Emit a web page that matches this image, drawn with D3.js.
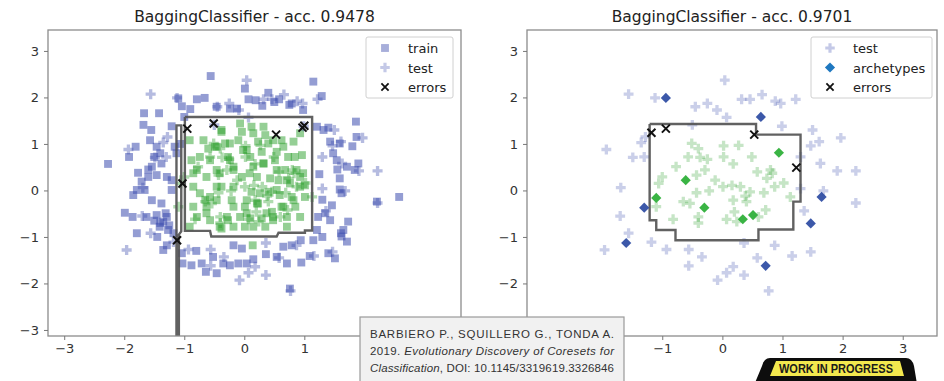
<!DOCTYPE html>
<html>
<head>
<meta charset="utf-8">
<script src="https://cdn.jsdelivr.net/npm/d3@7"></script>
<style>
  html, body { margin: 0; padding: 0; background: #fff; }
  svg { display: block; font-family: "DejaVu Sans", sans-serif; }
</style>
</head>
<body>
<svg id="chart" width="944" height="381"></svg>
<script>
// ---- data (data units) ----
// tick labels hidden by the citation box are left out
const xTicksL = [-3, -2, -1, 0, 1];
const xTicksR = [-1, 0, 1, 2, 3];
const yTicksL = [-3, -2, -1, 0, 1, 2, 3];
const yTicksR = [-2, -1, 0, 1, 2, 3];
const titles = ["BaggingClassifier - acc. 0.9478", "BaggingClassifier - acc. 0.9701"];

// training points, outer class (blue squares)
const trainOut = [
  [-0.56,2.46],[1.15,2.34],[1.29,2.03],[0.01,2.19],[0.07,1.96],[0.40,2.10],[0.58,1.96],[0.79,1.87],
  [-0.79,1.96],[-0.66,1.99],[-1.10,1.98],[-1.04,1.81],[-0.46,1.80],[-0.24,1.76],[-0.12,1.76],[0.19,1.94],
  [-1.00,1.58],[-1.67,1.66],[-1.42,1.66],[-1.68,1.41],[-1.21,1.38],[1.21,1.37],[1.40,1.35],[1.86,1.48],
  [1.87,1.15],[1.43,1.05],[1.59,1.01],[-1.81,0.94],[-1.92,0.72],[-1.57,1.08],[-1.46,0.94],[-1.50,0.72],
  [-1.38,0.58],[-1.54,0.51],[-1.77,0.38],[-1.60,0.29],[-1.71,0.19],[-2.27,0.57],[-1.29,0.29],[-1.79,0.01],
  [-1.66,0.01],[-1.85,-0.10],[-1.21,0.01],[1.54,0.65],[1.71,0.51],[1.90,0.58],[1.84,0.44],[1.59,0.26],
  [1.59,0.02],[1.62,-0.06],[2.21,-0.24],[2.58,-0.14],[1.46,-0.32],[1.35,-0.49],[1.43,-0.64],[1.73,-0.67],
  [1.61,-0.92],[1.71,-1.10],[1.23,-0.57],[1.21,-0.85],[1.15,-1.07],[1.51,-1.46],[1.40,-1.35],[1.09,-1.41],
  [0.94,-1.07],[0.79,-1.18],[0.65,-1.21],[0.54,-1.43],[0.71,-1.57],[0.76,-2.11],[0.36,-1.37],[0.15,-1.48],
  [0.04,-1.57],[-0.18,-1.18],[-0.04,-1.25],[-0.10,-1.57],[-0.24,-1.61],[-0.35,-1.57],[-0.71,-1.57],[-0.52,-1.43],
  [-0.64,-1.75],[-0.46,-1.78],[-1.03,-1.57],[-0.88,-1.61],[-1.04,-1.35],[-1.35,-1.28],[-1.29,-1.18],[-1.79,-0.92],
  [-1.99,-0.48],[-1.86,-0.57],[-1.63,-0.57],[-1.46,-0.53],[-1.35,-0.67],[-1.41,-0.78],[-1.27,-0.85],[-1.29,-0.57],
  [-1.54,-0.21],[-1.31,-0.49],[-1.18,-0.92],[-1.21,0.22],[0.75,1.84],[0.98,1.73],[-1.13,0.80],[-1.16,0.94],
  [-1.07,1.00],[-1.46,0.33],[-1.38,-0.28],[1.48,0.80],[1.32,1.30],[1.62,-0.99],[0.30,1.82],[-0.90,1.75],
  [1.30,-0.20],[1.25,0.35],[-1.45,-1.00],[-0.80,-1.30],[0.95,-1.55],[1.80,0.95],[-1.55,1.30],[0.50,1.90],
  [-1.40,-0.70],[-1.25,-0.75],[-1.50,-0.65],[-1.60,0.45],[-1.40,0.80],[1.55,0.45],[1.65,-0.85],[1.30,-1.00]
];
// training points, inner class (green squares)
const trainIn = [
  [-0.07,1.44],[-0.04,1.26],[-0.10,1.08],[0.04,0.87],[0.23,1.05],[0.40,1.01],[0.62,1.08],[0.82,1.05],
  [0.96,0.76],[0.73,0.72],[0.87,0.44],[0.68,0.44],[0.51,0.65],[0.32,0.58],[0.15,0.51],[0.21,0.29],
  [0.43,0.26],[0.57,0.22],[0.76,0.15],[1.01,0.11],[1.01,-0.14],[0.79,-0.14],[0.59,-0.10],[0.40,-0.03],
  [0.12,-0.03],[-0.04,0.29],[-0.18,0.44],[-0.27,0.72],[-0.32,1.01],[-0.38,1.26],[-0.38,0.08],[-0.21,-0.21],
  [0.01,-0.35],[0.23,-0.28],[0.46,-0.46],[0.62,-0.35],[0.71,-0.57],[0.48,-0.64],[0.29,-0.60],[0.10,-0.60],
  [-0.07,-0.57],[-0.27,-0.64],[-0.38,-0.82],[0.01,-0.78],[0.35,-0.78],[0.85,-0.35],[0.93,0.29],[0.10,0.72],
  [0.29,0.83],[0.54,0.83],[0.93,1.23],[0.35,1.19],[0.12,1.37],[0.14,-1.18],[-0.91,1.08],[-0.74,0.72],
  [-0.57,0.65],[-0.79,0.44],[-0.63,0.29],[-0.85,0.08],[-0.74,-0.06],[-0.57,-0.14],[-0.63,-0.35],[-0.85,-0.35],
  [-0.79,-0.57],[-0.57,-0.64],[-0.91,-0.78],[-0.49,0.94],[-0.46,0.08],[-0.46,0.44],[-0.88,0.65],[-0.85,0.37],
  [-0.41,0.37],[-0.24,0.65],[-0.18,0.08],[-0.46,-0.21],[-0.63,-0.49],[-0.29,-0.57],[-0.18,-0.78],[0.04,-0.49],
  [0.21,-0.28],[0.37,-0.49],[0.48,-0.57],[0.65,-0.35],[0.82,-0.21],[0.93,0.08],[0.98,0.37],[0.84,0.72],
  [0.65,0.94],[0.48,1.08],[0.32,1.37],[0.15,1.23],[-0.02,0.87],[-0.24,1.01],[-0.46,0.94],[-0.68,1.08],
  [-0.38,1.30],[-0.18,0.51],[0.09,0.37],[0.32,0.58],[0.54,0.44],[0.71,0.22],[0.54,0.01],[0.26,-0.06],
  [0.04,-0.21],[-0.18,-0.35],[-0.41,-0.78],[0.15,-0.78],[0.71,-0.78],[0.93,-0.57],[-0.65,-0.20],[-0.60,0.90]
];

// test points (same set in both panels)
const testOut = [
  [-1.56,2.07],[-1.12,1.99],[0.04,2.37],[-0.45,1.80],[-0.25,1.87],[-0.09,1.73],[0.07,1.57],[0.32,1.96],
  [0.46,1.96],[0.66,2.06],[0.88,1.92],[0.97,1.87],[1.22,1.96],[0.99,1.38],[1.50,1.30],[1.47,0.96],
  [1.61,1.05],[1.97,1.13],[1.63,0.58],[1.91,0.42],[2.22,0.42],[2.22,-0.27],[1.30,0.72],[1.36,-0.44],
  [1.47,-1.32],[1.16,-1.41],[0.87,-1.18],[0.58,-1.45],[0.77,-2.16],[0.36,-1.82],[0.18,-1.64],[0.07,-1.77],
  [-0.08,-1.93],[0.36,-1.13],[-0.34,-1.43],[-0.56,-1.27],[-0.56,-1.62],[-0.93,-1.27],[-1.18,-1.11],[-1.56,-0.92],
  [-1.70,-0.55],[-1.96,-1.28],[-1.69,0.06],[-1.93,0.88],[-1.49,0.71],[-1.30,0.72],[-1.35,1.03],[-1.28,1.15],
  [-0.50,1.41],[1.68,-0.01],[1.30,0.04]
];
const testIn = [
  [-0.51,1.01],[-0.40,0.90],[-0.37,0.71],[-0.57,0.72],[-0.25,0.67],[0.02,0.96],[0.27,0.97],[0.49,0.72],
  [0.18,0.57],[0.02,0.72],[-0.29,0.44],[-0.43,0.33],[-1.00,0.29],[-1.06,0.15],[0.58,0.40],[0.74,0.26],
  [0.83,0.37],[1.02,0.16],[0.87,0.08],[1.13,-0.14],[0.69,-0.05],[0.46,-0.03],[0.30,0.08],[0.16,0.11],
  [0.01,0.08],[-0.22,-0.01],[-0.43,-0.05],[-0.65,-0.24],[-0.54,-0.28],[0.18,-0.21],[0.40,-0.24],[-0.82,-0.62],
  [-0.40,-0.57],[-0.40,-0.70],[0.07,-0.62],[0.20,-0.46],[0.24,-0.67],[0.72,-0.42],[0.60,-0.57],[-0.12,0.22],
  [0.38,-0.12],[0.80,0.44],[-1.10,-0.35],[-0.77,0.51]
];

// archetypes (right panel only)
const archOut = [[-0.94,1.99],[0.64,1.58],[-1.30,-0.37],[-1.60,-1.13],[1.65,-0.14],[1.47,-0.71],[0.72,-1.62]];
const archIn = [[0.94,0.81],[-0.61,0.22],[-1.10,-0.16],[-0.30,-0.37],[0.34,-0.62],[0.51,-0.53]];

// misclassified test points
const errorsL = [[-0.95,1.33],[-0.51,1.44],[0.53,1.20],[0.97,1.35],[1.00,1.39],[-1.03,0.15],[-1.12,-1.07]];
const errorsR = [[-1.18,1.24],[-0.94,1.33],[0.53,1.20],[1.23,0.49]];

// decision boundaries (contour vertices)
const boundaryL = [[-0.99,1.58],[1.13,1.58],[1.13,-0.86],[1.01,-0.86],[1.01,-0.91],[0.57,-0.91],[0.54,-0.99],
  [-0.55,-0.99],[-0.57,-0.87],[-0.99,-0.87],[-0.99,1.58]];
const stripL = [[-1.13,-3.4],[-1.13,1.40],[-1.05,1.40],[-1.05,-0.88],[-1.09,-0.95],[-1.09,-3.4]];
const boundaryR = [[-1.21,1.43],[0.56,1.43],[0.56,1.20],[1.30,1.20],[1.30,-0.24],[1.18,-0.24],[1.18,-0.84],
  [0.60,-0.84],[0.60,-1.07],[-0.78,-1.07],[-0.78,-0.85],[-1.10,-0.85],[-1.10,-0.64],[-1.21,-0.64],[-1.21,1.43]];

// ---- drawing ----
const svg = d3.select("#chart");
const BLUE = "#3c4cae", GREEN = "#2ca02c";
const fmt = d => d < 0 ? "\u2212" + Math.abs(d) : String(d);
const crossPath = "M-4,-4L4,4M-4,4L4,-4";

function drawPanel(p) {
  const x = d3.scaleLinear().domain(p.xDom).range([p.left, p.right]);
  const y = d3.scaleLinear().domain([-3.13, 3.45]).range([336, 30]);
  const g = svg.append("g");

  const clipId = "clip" + p.id;
  svg.append("clipPath").attr("id", clipId).append("rect")
    .attr("x", p.left).attr("y", 30).attr("width", p.right - p.left).attr("height", 306);
  const plot = g.append("g").attr("clip-path", `url(#${clipId})`);

  const sq = d3.symbol(d3.symbolSquare, 62);
  const plus = d3.symbol(d3.symbolCross, p.plusSize);
  const tr = d => `translate(${x(d[0])},${y(d[1])})`;

  if (p.train) {
    plot.selectAll(".tro").data(trainOut).join("path").attr("d", sq).attr("transform", tr)
      .attr("fill", BLUE).attr("fill-opacity", 0.55);
    plot.selectAll(".tri").data(trainIn).join("path").attr("d", sq).attr("transform", tr)
      .attr("fill", GREEN).attr("fill-opacity", 0.5);
  }
  plot.selectAll(".teo").data(testOut).join("path").attr("d", plus).attr("transform", tr)
    .attr("fill", BLUE).attr("fill-opacity", p.testAlpha);
  plot.selectAll(".tei").data(testIn).join("path").attr("d", plus).attr("transform", tr)
    .attr("fill", GREEN).attr("fill-opacity", p.testAlpha);

  const line = d3.line().x(d => x(d[0])).y(d => y(d[1]));
  p.bounds.forEach(b => {
    plot.append("path").attr("d", line(b)).attr("fill", "none")
      .attr("stroke", "#505050").attr("stroke-width", 2.4).attr("stroke-opacity", 0.9);
  });

  if (p.arch) {
    const dia = d3.symbol(d3.symbolSquare, 52);
    const trd = d => `translate(${x(d[0])},${y(d[1])}) rotate(45)`;
    plot.selectAll(".ao").data(archOut).join("path").attr("d", dia).attr("transform", trd)
      .attr("fill", "#2746a0").attr("fill-opacity", 0.9);
    plot.selectAll(".ai").data(archIn).join("path").attr("d", dia).attr("transform", trd)
      .attr("fill", "#2fb03a").attr("fill-opacity", 0.95);
  }

  plot.selectAll(".err").data(p.errors).join("path").attr("d", crossPath).attr("transform", tr)
    .attr("fill", "none").attr("stroke", "#111").attr("stroke-width", 2);

  // frame
  g.append("rect").attr("x", p.left).attr("y", 30).attr("width", p.right - p.left).attr("height", 306)
    .attr("fill", "none").attr("stroke", "#8c8c8c").attr("stroke-width", 1.3);

  const styleAxis = a => {
    a.select(".domain").remove();
    a.selectAll(".tick line").attr("stroke", "#777");
    a.selectAll(".tick text").attr("fill", "#333").attr("font-size", 13)
      .attr("font-family", "'DejaVu Sans', sans-serif");
  };
  g.append("g").attr("transform", "translate(0,336)")
    .call(d3.axisBottom(x).tickValues(p.xTicks).tickFormat(fmt).tickSize(4).tickPadding(4)).call(styleAxis);
  g.append("g").attr("transform", `translate(${p.left},0)`)
    .call(d3.axisLeft(y).tickValues(p.yTicks).tickFormat(fmt).tickSize(4).tickPadding(5)).call(styleAxis);

  g.append("text").attr("x", (p.left + p.right) / 2).attr("y", 22).attr("text-anchor", "middle")
    .attr("font-size", 15.5).attr("fill", "#222").text(p.title);

  // legend
  const lg = g.append("g");
  lg.append("rect").attr("x", p.legX).attr("y", 37).attr("width", p.legW).attr("height", 61).attr("rx", 2)
    .attr("fill", "#fff").attr("fill-opacity", 0.85).attr("stroke", "#d0d0d0");
  p.legend.forEach((it, i) => {
    const cy = 48 + i * 19.5, mx = p.legX + 19;
    if (it.kind === "sq") lg.append("path").attr("d", sq).attr("transform", `translate(${mx},${cy})`)
      .attr("fill", BLUE).attr("fill-opacity", 0.45);
    if (it.kind === "plus") lg.append("path").attr("d", d3.symbol(d3.symbolCross, 50)).attr("transform", `translate(${mx},${cy})`)
      .attr("fill", BLUE).attr("fill-opacity", 0.3);
    if (it.kind === "dia") lg.append("path").attr("d", d3.symbol(d3.symbolSquare, 52))
      .attr("transform", `translate(${mx},${cy}) rotate(45)`).attr("fill", "#1f78c0");
    if (it.kind === "x") lg.append("path").attr("d", crossPath).attr("transform", `translate(${mx},${cy}) scale(0.9)`)
      .attr("fill", "none").attr("stroke", "#111").attr("stroke-width", 2);
    lg.append("text").attr("x", p.legX + 42).attr("y", cy + 5).attr("font-size", 13).attr("fill", "#222").text(it.label);
  });
}

drawPanel({ id: "L", left: 48, right: 461, xDom: [-3.27, 3.61], xTicks: xTicksL, yTicks: yTicksL, title: titles[0],
  train: true, arch: false, testAlpha: 0.38, plusSize: 56, errors: errorsL, bounds: [boundaryL, stripL], legX: 366, legW: 87,
  legend: [{ kind: "sq", label: "train" }, { kind: "plus", label: "test" }, { kind: "x", label: "errors" }] });
drawPanel({ id: "R", left: 527, right: 937, xDom: [-3.25, 3.57], xTicks: xTicksR, yTicks: yTicksR, title: titles[1],
  train: false, arch: true, testAlpha: 0.27, plusSize: 54, errors: errorsR, bounds: [boundaryR], legX: 811, legW: 121,
  legend: [{ kind: "plus", label: "test" }, { kind: "dia", label: "archetypes" }, { kind: "x", label: "errors" }] });

// citation box
const cite = svg.append("g").attr("font-family", "'Liberation Sans', Arial, sans-serif").attr("font-size", 11.5).attr("fill", "#333");
cite.append("rect").attr("x", 360).attr("y", 317).attr("width", 264).attr("height", 80)
  .attr("fill", "#f1f1f1").attr("stroke", "#9a9a9a").attr("stroke-width", 1.2);
const citeLines = [
  [{ t: "BARBIERO P., SQUILLERO G., TONDA A." }],
  [{ t: "2019. " }, { t: "Evolutionary Discovery of Coresets for", i: true }],
  [{ t: "Classification", i: true }, { t: ", DOI: 10.1145/3319619.3326846" }]
];
citeLines.forEach((ln, i) => {
  const t = cite.append("text").attr("x", 370).attr("y", 337.5 + i * 17.2).attr("textLength", 244).attr("lengthAdjust", "spacing");
  ln.forEach(s => t.append("tspan").attr("font-style", s.i ? "italic" : "normal").text(s.t));
});

// work-in-progress badge
const badge = svg.append("g");
badge.append("path").attr("d", "M770,358 L906,358 Q912,358 914,366 L918,390 L752,390 L762,366 Q764,358 770,358 Z")
  .attr("fill", "#0d0d0d");
badge.append("path").attr("d", "M776,361 L900,361 L904,376 L770,376 Z").attr("fill", "#f3e84e");
badge.append("text").attr("x", 836).attr("y", 372.5).attr("text-anchor", "middle")
  .attr("font-family", "'Liberation Sans', Arial, sans-serif").attr("font-weight", "bold").attr("font-size", 12)
  .attr("textLength", 114).attr("lengthAdjust", "spacingAndGlyphs").attr("fill", "#1a1a1a").text("WORK IN PROGRESS");
</script>
</body>
</html>
